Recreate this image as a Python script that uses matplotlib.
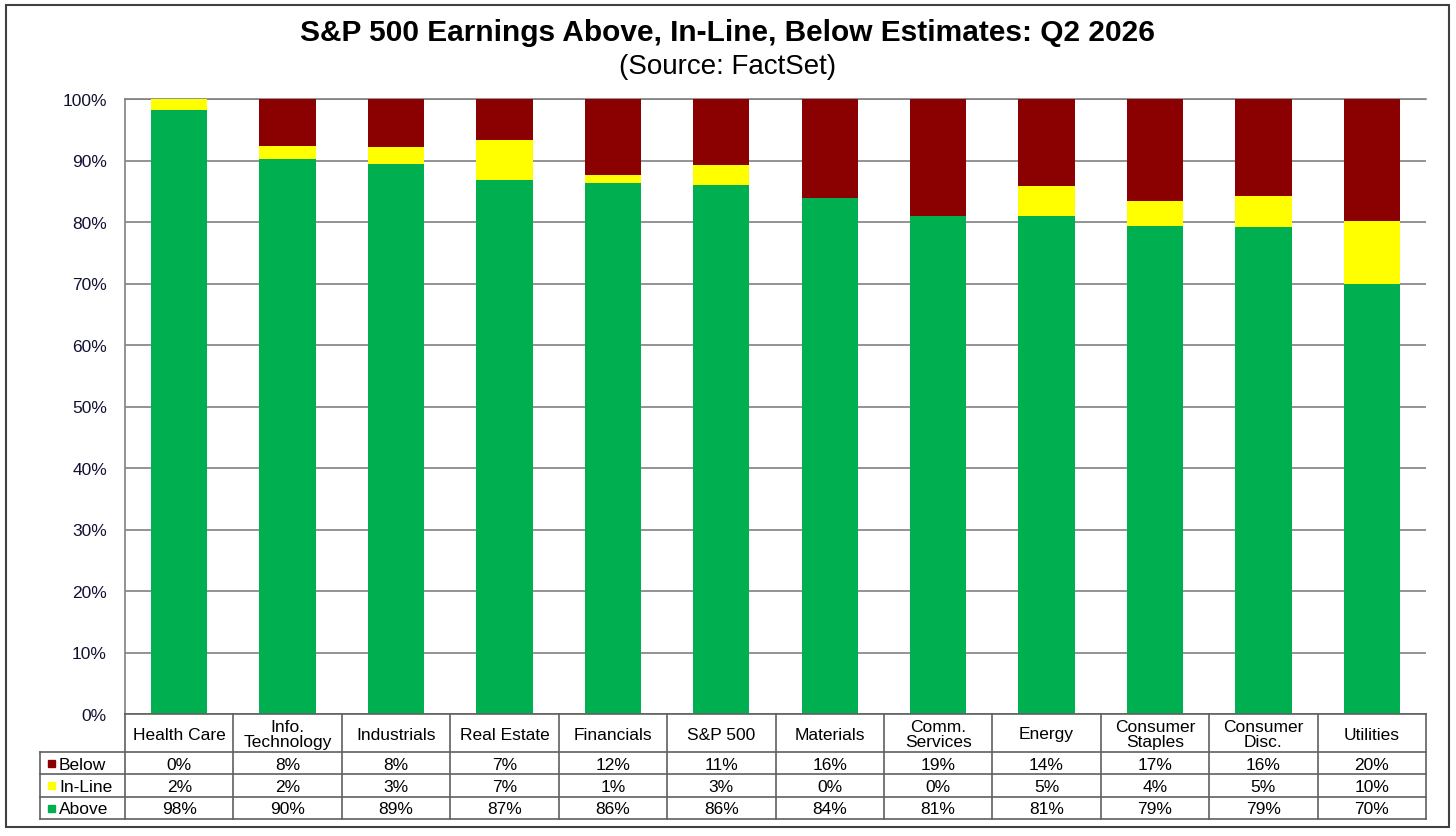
import numpy as np
import matplotlib.pyplot as plt
from matplotlib.patches import Rectangle

plt.rcParams['font.family'] = ['Liberation Sans', 'DejaVu Sans']

sectors = ['Health Care', 'Info.\nTechnology', 'Industrials', 'Real Estate', 'Financials',
           'S&P 500', 'Materials', 'Comm.\nServices', 'Energy', 'Consumer\nStaples',
           'Consumer\nDisc.', 'Utilities']

# bar heights (in %)
above_bar = [98.2, 90.2, 89.4, 86.8, 86.3, 86.0, 83.9, 81.0, 81.0, 79.3, 79.2, 69.9]
inline_bar = [1.8, 2.2, 2.8, 6.5, 1.3, 3.3, 0.0, 0.0, 4.9, 4.1, 5.0, 10.3]

# table values (as printed)
below_tab = [0, 8, 8, 7, 12, 11, 16, 19, 14, 17, 16, 20]
inline_tab = [2, 2, 3, 7, 1, 3, 0, 0, 5, 4, 5, 10]
above_tab = [98, 90, 89, 87, 86, 86, 84, 81, 81, 79, 79, 70]

GREEN = '#00B050'
YELLOW = '#FFFF00'
RED = '#8B0000'

W, H = 1456, 837
fig = plt.figure(figsize=(W / 100, H / 100), dpi=100)

# plot area in pixels
px_l, px_r, px_t, px_b = 125, 1426, 100, 715
ax = fig.add_axes([px_l / W, 1 - px_b / H, (px_r - px_l) / W, (px_b - px_t) / H])

above = np.array(above_bar)
inline = np.array(inline_bar)
below = 100 - above - inline
x = np.arange(len(sectors))
bw = 0.52
ax.bar(x, above, bw, color=GREEN, zorder=3)
ax.bar(x, inline, bw, bottom=above, color=YELLOW, zorder=3)
ax.bar(x, below, bw, bottom=above + inline, color=RED, zorder=3)

ax.set_xlim(-0.5, len(sectors) - 0.5)
ax.set_ylim(0, 100)
ax.set_yticks(np.arange(0, 101, 10))
ax.set_yticklabels([f'{v}%' for v in range(0, 101, 10)], fontsize=12.5, color='#111133')
ax.yaxis.grid(True, color='#808080', linewidth=1.2, zorder=0)
ax.tick_params(axis='y', length=0, pad=13)
ax.set_xticks([])
for s in ['right', 'bottom']:
    ax.spines[s].set_visible(False)
ax.spines['left'].set_color('#808080')
ax.spines['top'].set_color('#808080')
ax.spines['left'].set_linewidth(1.2)
ax.spines['top'].set_linewidth(1.2)

# overlay axes in pixel coords for title, table and frame
ov = fig.add_axes([0, 0, 1, 1], zorder=5)
ov.set_xlim(0, W)
ov.set_ylim(H, 0)
ov.axis('off')
ov.patch.set_alpha(0)

ov.add_patch(Rectangle((6, 6), 1443, 822, fill=False, edgecolor='#404040', linewidth=1.5))
ov.text(728, 33, 'S&P 500 Earnings Above, In-Line, Below Estimates: Q2 2026',
        ha='center', va='center', fontsize=21.5, fontweight='bold')
ov.text(728, 67, '(Source: FactSet)', ha='center', va='center', fontsize=20)

# data table
col_w = (px_r - px_l) / len(sectors)
lab_l = 40
row_y = [715, 753, 775, 798, 820]
lc = '#606060'
lw = 1.2
ov.plot([px_l, px_r], [row_y[0], row_y[0]], color=lc, lw=lw)
for yy in row_y[1:]:
    ov.plot([lab_l, px_r], [yy, yy], color=lc, lw=lw)
ov.plot([lab_l, lab_l], [row_y[1], row_y[-1]], color=lc, lw=lw)
for i in range(len(sectors) + 1):
    xx = px_l + i * col_w
    ov.plot([xx, xx], [row_y[0], row_y[-1]], color=lc, lw=lw)

rows = [('Below', RED, below_tab), ('In-Line', YELLOW, inline_tab), ('Above', GREEN, above_tab)]
for i, name in enumerate(sectors):
    cx = px_l + (i + 0.5) * col_w
    ov.text(cx, (row_y[0] + row_y[1]) / 2 + 1, name, ha='center', va='center',
            fontsize=12.5, linespacing=1.0)
    for r, (_, _, vals) in enumerate(rows):
        cy = (row_y[r + 1] + row_y[r + 2]) / 2 + 1
        ov.text(cx, cy, f'{vals[i]}%', ha='center', va='center', fontsize=12.5)
for r, (lbl, colr, _) in enumerate(rows):
    cy = (row_y[r + 1] + row_y[r + 2]) / 2
    ov.add_patch(Rectangle((lab_l + 8, cy - 3.5), 7, 7, color=colr))
    ov.text(lab_l + 19, cy + 1, lbl, ha='left', va='center', fontsize=12.5)

fig.savefig('out.png', dpi=100)
